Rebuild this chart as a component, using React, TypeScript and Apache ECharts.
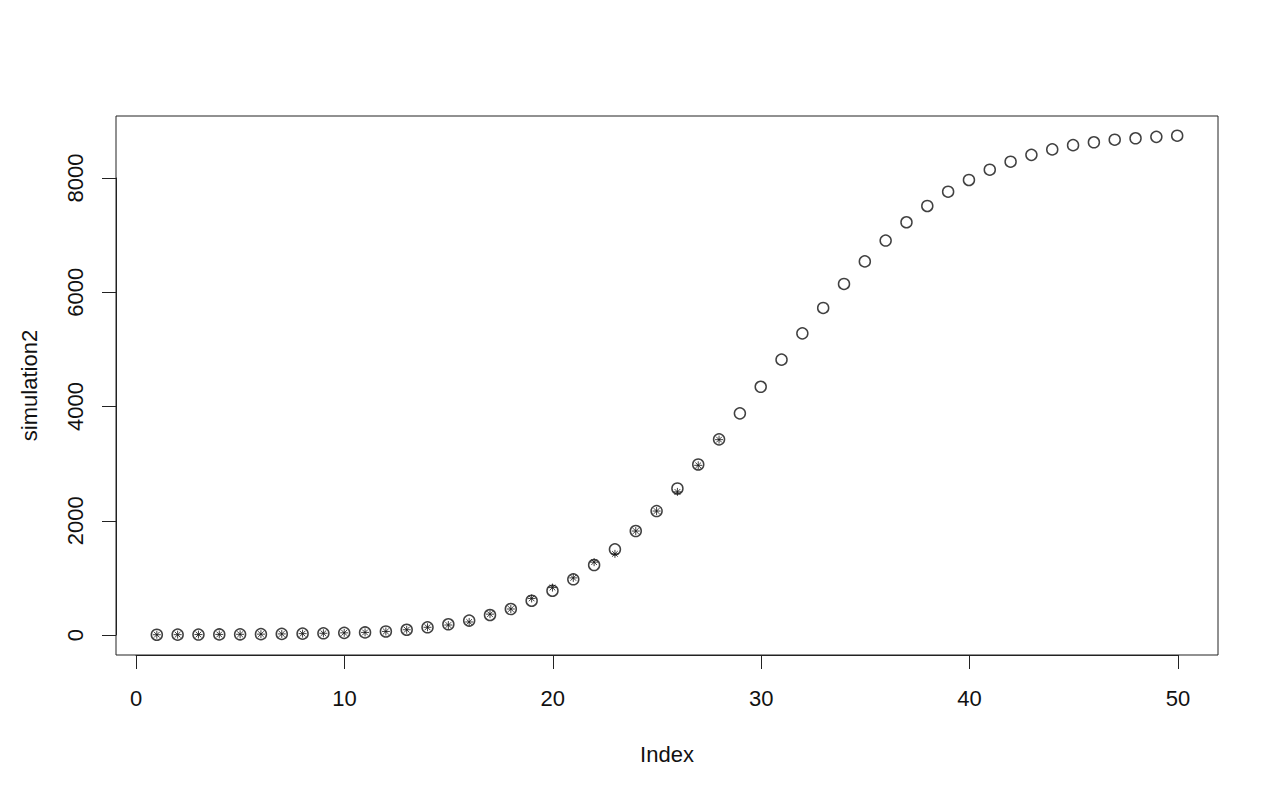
import React, { useEffect, useRef } from "react";
import * as echarts from "echarts";

const indexValues: number[] = Array.from({ length: 50 }, (_, i) => i + 1);

// simulation2 (circles), indices 1..50
const simulation2: number[] = [
  5, 6, 8, 10, 12, 15, 19, 24, 30, 38,
  45, 62, 92, 135, 188, 252, 350, 455, 600, 775,
  975, 1225, 1500, 1820, 2170, 2565, 2985, 3425, 3880, 4345,
  4820, 5280, 5725, 6145, 6540, 6905, 7225, 7510, 7760, 7965,
  8145, 8285, 8405, 8500, 8575, 8625, 8670, 8695, 8720, 8740,
];

// observed series (asterisks), indices 1..28
const observed: number[] = [
  5, 6, 8, 10, 12, 15, 19, 24, 30, 38,
  45, 62, 92, 135, 175, 228, 365, 455, 640, 830,
  1000, 1275, 1420, 1820, 2170, 2505, 2970, 3420,
];

const xTicks = { min: 0, max: 50, interval: 10 };
const yTicks = { min: 0, max: 8000, interval: 2000 };

const FONT = "'Liberation Sans', Arial, Helvetica, sans-serif";
const FS = 22;
const INK = "#222";

export default function App() {
  const ref = useRef<HTMLDivElement>(null);

  useEffect(() => {
    if (!ref.current) return;
    const chart = echarts.init(ref.current, undefined, { renderer: "svg" });

    const circleData = simulation2.map((v, i) => [indexValues[i], v]);
    const starData = observed.map((v, i) => [indexValues[i], v]);

    const plain = (v: number) => String(v);

    const option: any = {
      animation: false,
      backgroundColor: "#ffffff",
      textStyle: { fontFamily: FONT },
      grid: [
        {
          left: 116, right: 60, top: 116, bottom: 145,
          show: true, borderColor: INK, borderWidth: 1,
          backgroundColor: "transparent",
          outerBoundsMode: "none",
        },
        { left: 136, right: 100, top: 116, bottom: 145, outerBoundsMode: "none" },
        { left: 116, right: 60, top: 178, bottom: 165, outerBoundsMode: "none" },
      ],
      xAxis: [
        {
          gridIndex: 0, type: "value", min: -0.96, max: 51.96,
          axisLine: { show: false },
          axisTick: { show: false },
          axisLabel: { show: false },
          splitLine: { show: false },
          name: "Index",
          nameLocation: "middle",
          nameGap: 88,
          nameTextStyle: { color: "#111", fontSize: FS, fontFamily: FONT },
        },
        {
          gridIndex: 1, type: "value",
          min: xTicks.min, max: xTicks.max, interval: xTicks.interval,
          axisLine: { show: true, lineStyle: { color: INK, width: 1 } },
          axisTick: { show: true, inside: false, length: 14, lineStyle: { color: INK, width: 1 } },
          axisLabel: { show: true, color: "#111", fontSize: FS, fontFamily: FONT, margin: 32, formatter: plain },
          splitLine: { show: false },
        },
        { gridIndex: 2, type: "value", min: 0, max: 1, show: false },
      ],
      yAxis: [
        {
          gridIndex: 0, type: "value", min: -350, max: 9085,
          axisLine: { show: false },
          axisTick: { show: false },
          axisLabel: { show: false },
          splitLine: { show: false },
          name: "simulation2",
          nameLocation: "middle",
          nameGap: 76,
          nameRotate: 90,
          nameTextStyle: { color: "#111", fontSize: FS, fontFamily: FONT },
        },
        { gridIndex: 1, type: "value", min: 0, max: 1, show: false },
        {
          gridIndex: 2, type: "value",
          min: yTicks.min, max: yTicks.max, interval: yTicks.interval,
          axisLine: { show: true, lineStyle: { color: INK, width: 1 } },
          axisTick: { show: true, inside: false, length: 14, lineStyle: { color: INK, width: 1 } },
          axisLabel: { show: true, rotate: 90, color: "#111", fontSize: FS, fontFamily: FONT, margin: 30, formatter: plain },
          splitLine: { show: false },
        },
      ],
      series: [
        {
          type: "scatter",
          name: "simulation2",
          xAxisIndex: 0,
          yAxisIndex: 0,
          data: circleData,
          symbol: "circle",
          symbolSize: 11,
          itemStyle: { color: "transparent", borderColor: "#111", borderWidth: 1.5 },
          emphasis: { disabled: true },
          z: 2,
        },
        {
          type: "scatter",
          name: "observed",
          xAxisIndex: 0,
          yAxisIndex: 0,
          data: starData,
          symbol: "path://M5 0 L5 10 M0 5 L10 5 M1.46 1.46 L8.54 8.54 M1.46 8.54 L8.54 1.46",
          symbolSize: 8,
          itemStyle: { color: "transparent", borderColor: "#111", borderWidth: 1 },
          emphasis: { disabled: true },
          z: 3,
        },
      ],
    };

    chart.setOption(option);
    return () => chart.dispose();
  }, []);

  return (
    <div
      ref={ref}
      style={{ position: "fixed", left: 0, top: 0, width: 1278, height: 800, background: "#fff" }}
    />
  );
}
